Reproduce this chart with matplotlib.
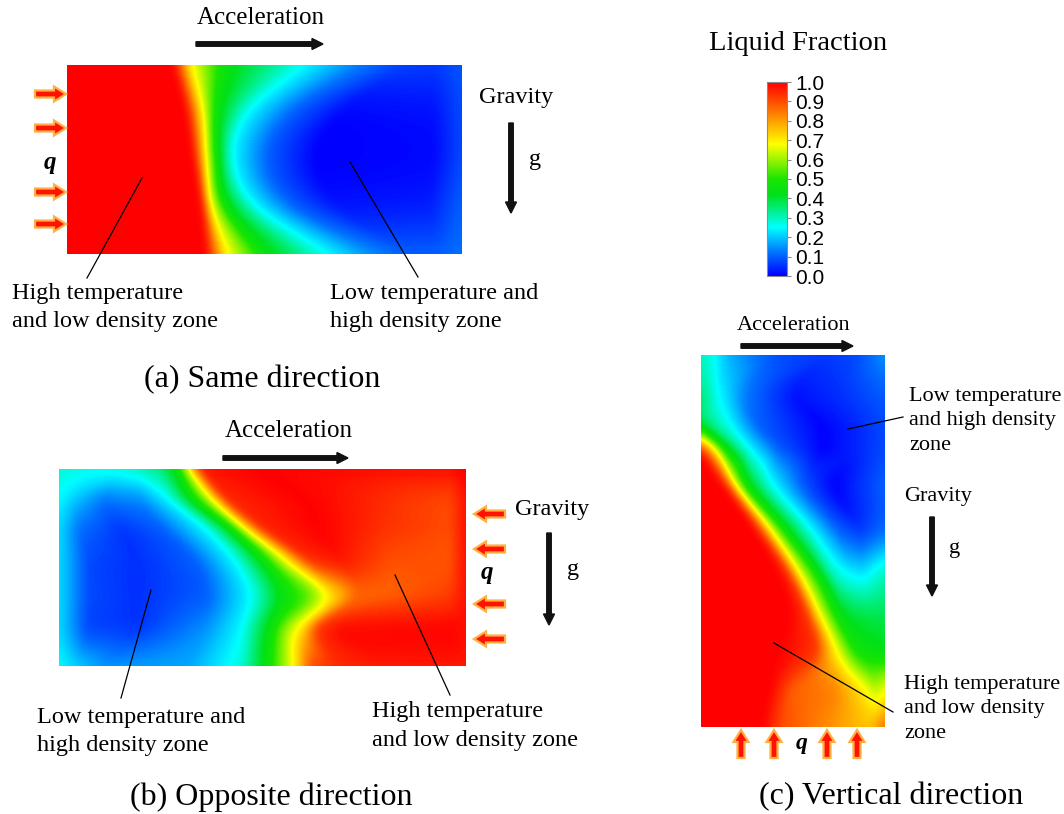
import numpy as np
import matplotlib

matplotlib.use('Agg')
import matplotlib.pyplot as plt  # noqa: E402
from matplotlib.colors import LinearSegmentedColormap, Normalize  # noqa: E402
from matplotlib.patches import FancyArrow  # noqa: E402
from matplotlib.cm import ScalarMappable  # noqa: E402

plt.rcParams['font.family'] = ['Liberation Serif', 'DejaVu Serif']

# liquid fraction profiles: each row (v = depth from the top, 0..1) is a set of
# knots across the width (x as a fraction of the width) with the value there
same_rows_v = [0.0, 0.24, 0.49, 0.73, 1.0]
same_knots_x = [
    [0, .27, .31, .40, .60, .74, .85, .93, 1.0],
    [0, .30, .34, .38, .46, .58, .70, .93, 1.0],
    [0, .32, .35, .38, .42, .51, .63, .93, 1.0],
    [0, .34, .36, .40, .47, .57, .68, .92, 1.0],
    [0, .35, .40, .50, .66, .78, .87, .94, 1.0],
]
same_knots_val = [
    [1, 1, .70, .45, .25, .13, .07, .06, .09],
    [1, 1, .70, .45, .25, .10, .01, .02, .08],
    [1, 1, .70, .45, .25, .10, .00, .01, .08],
    [1, 1, .70, .45, .25, .10, .02, .03, .10],
    [1, 1, .70, .45, .25, .14, .10, .10, .12],
]

opp_rows_v = [0.0, 0.15, 0.30, 0.46, 0.64, 0.81, 1.0]
opp_knots_x = [
    [0, .08, .15, .20, .25, .29, .32, .35, .48, .81, .96, 1.0],
    [0, .04, .11, .20, .27, .33, .38, .41, .60, .85, .96, 1.0],
    [0, .05, .15, .25, .36, .42, .46, .50, .64, .81, .96, 1.0],
    [0, .07, .19, .33, .43, .50, .56, .61, .69, .81, .96, 1.0],
    [0, .07, .19, .36, .47, .55, .61, .67, .73, .81, .96, 1.0],
    [0, .07, .19, .36, .45, .52, .56, .60, .64, .69, .96, 1.0],
    [0, .05, .11, .32, .45, .51, .58, .62, .69, .80, .96, 1.0],
]
opp_knots_val = [
    [.28, .26, .27, .30, .35, .45, .70, .97, 1.0, .98, .98, 1.0],
    [.25, .20, .13, .15, .25, .45, .70, .95, 1.0, .93, .91, .98],
    [.22, .12, .06, .10, .25, .45, .70, .95, 1.0, .93, .90, .98],
    [.22, .08, .05, .10, .25, .45, .70, .93, .97, .90, .89, .98],
    [.22, .08, .05, .10, .25, .45, .55, .72, .87, .88, .92, .98],
    [.22, .08, .06, .15, .25, .45, .60, .72, .93, .98, .99, .98],
    [.25, .20, .15, .17, .28, .45, .70, .90, .95, .97, .97, .97],
]

vert_rows_v = [0.0, 0.10, 0.20, 0.25, 0.34, 0.47, 0.59, 0.70, 0.80, 0.89, 1.0]
vert_knots_x = [
    [0, .05, .15, .30, .42, .69, .85, 1.0],
    [0, .05, .09, .16, .24, .51, .75, 1.0],
    [0, .03, .08, .18, .33, .66, .85, 1.0],
    [0, .06, .13, .26, .42, .66, .85, 1.0],
    [.09, .13, .17, .24, .38, .57, .73, 1.0],
    [.28, .32, .37, .46, .60, .75, .86, 1.0],
    [.42, .48, .53, .64, .72, .80, .88, 1.0],
    [.48, .58, .64, .75, .80, .85, .92, 1.0],
    [.42, .62, .73, .84, .88, .92, .96, 1.0],
    [.38, .51, .73, .86, .95, .97, .99, 1.0],
    [.33, .44, .69, .91, .95, .97, .99, 1.0],
]
vert_knots_val = [
    [.30, .27, .18, .12, .08, .06, .08, .15],
    [.35, .30, .25, .20, .13, .02, .05, .10],
    [.50, .42, .35, .25, .10, .00, .04, .08],
    [.90, .70, .45, .25, .10, .00, .04, .08],
    [1.0, .93, .70, .45, .25, .08, .00, .10],
    [1.0, .93, .70, .45, .25, .10, .06, .12],
    [1.0, .93, .70, .45, .30, .25, .23, .30],
    [1.0, .93, .70, .45, .41, .39, .38, .38],
    [1.0, .93, .70, .50, .47, .46, .45, .45],
    [1.0, .88, .82, .70, .60, .62, .64, .65],
    [1.0, .90, .82, .75, .78, .82, .84, .85],
]

cbar_ticks = [0.0, 0.1, 0.2, 0.3, 0.4, 0.5, 0.6, 0.7, 0.8, 0.9, 1.0]

cmap = LinearSegmentedColormap.from_list('fluent', [
    (0.00, (0.0, 0.0, 1.0)),
    (0.12, (0.0, 0.45, 1.0)),
    (0.25, (0.0, 1.0, 1.0)),
    (0.42, (0.0, 0.88, 0.1)),
    (0.50, (0.1, 0.9, 0.0)),
    (0.68, (1.0, 1.0, 0.0)),
    (0.80, (1.0, 0.62, 0.0)),
    (0.90, (1.0, 0.3, 0.0)),
    (1.00, (1.0, 0.0, 0.0)),
])
norm = Normalize(0, 1)


def smooth(z, sigma):
    r = int(3 * sigma)
    k = np.exp(-0.5 * (np.arange(-r, r + 1) / sigma) ** 2)
    k /= k.sum()
    zp = np.pad(z, ((r, r), (0, 0)), mode='edge')
    z = np.apply_along_axis(lambda c: np.convolve(c, k, mode='valid'), 0, zp)
    zp = np.pad(z, ((0, 0), (r, r)), mode='edge')
    z = np.apply_along_axis(lambda c: np.convolve(c, k, mode='valid'), 1, zp)
    return z


def hermite(t_new, t, p):
    # cubic Hermite through the row values, slopes from finite differences
    t = np.asarray(t, dtype=float)
    p = np.asarray(p, dtype=float)
    m = np.gradient(p, t)
    i = np.clip(np.searchsorted(t, t_new, side='right') - 1, 0, len(t) - 2)
    h = t[i + 1] - t[i]
    s = (t_new - t[i]) / h
    return ((2 * s**3 - 3 * s**2 + 1) * p[i] + (s**3 - 2 * s**2 + s) * h * m[i]
            + (-2 * s**3 + 3 * s**2) * p[i + 1] + (s**3 - s**2) * h * m[i + 1])


def build_field(rows_v, knots_x, knots_val, nx, ny, sigma=4.0):
    # knots slide between rows, so fronts move instead of fading
    kx = np.array(knots_x, dtype=float)
    kv = np.array(knots_val, dtype=float)
    u = np.linspace(0, 1, nx)
    vv = np.linspace(0, 1, ny)
    xs_all = np.stack([hermite(vv, rows_v, kx[:, k]) for k in range(kx.shape[1])], axis=1)
    vs_all = np.stack([hermite(vv, rows_v, kv[:, k]) for k in range(kv.shape[1])], axis=1)
    z = np.empty((ny, nx))
    for i in range(ny):
        xs = np.maximum.accumulate(xs_all[i])
        z[i] = np.interp(u, xs, np.clip(vs_all[i], 0, 1))
    return np.clip(smooth(z, sigma), 0, 1)


def draw_field(ax, box, rows_v, knots_x, knots_val):
    x0, y0, x1, y1 = box
    z = build_field(rows_v, knots_x, knots_val, int(x1 - x0), int(y1 - y0))
    ax.imshow(z, cmap=cmap, norm=norm, extent=(x0, x1, y1, y0),
              origin='upper', interpolation='bilinear', aspect='auto', zorder=1)


def black_arrow(ax, x, y, dx, dy):
    ax.add_patch(FancyArrow(x, y, dx, dy, width=4.5, head_width=11, head_length=11,
                            length_includes_head=True, color='#111111', zorder=3))


def heat_arrow(ax, x, y, dx, dy):
    ax.add_patch(FancyArrow(x, y, dx, dy, width=7, head_width=15, head_length=12,
                            length_includes_head=True, fc='#ff1200', ec='#ffb040',
                            lw=1.6, zorder=3))


def label(ax, x, y, lines, size=17.5, step=28.5):
    for i, line in enumerate(lines):
        ax.text(x, y + i * step, line, fontsize=size, ha='left', va='center')


fig = plt.figure(figsize=(10.64, 8.14), dpi=100)
ax = fig.add_axes([0, 0, 1, 1])
ax.set_xlim(0, 1064)
ax.set_ylim(814, 0)
ax.axis('off')

# (a) same direction
draw_field(ax, (67, 65, 462, 254), same_rows_v, same_knots_x, same_knots_val)
ax.text(261, 18, 'Acceleration', fontsize=18, ha='center', va='center')
black_arrow(ax, 196, 44, 127, 0)
for yy in (94, 128, 192, 224):
    heat_arrow(ax, 35, yy, 31, 0)
ax.text(50, 162, 'q', fontsize=18, fontweight='bold', style='italic', ha='center', va='center')
ax.text(479, 97, 'Gravity', fontsize=17.5, ha='left', va='center')
black_arrow(ax, 511, 123, 0, 90)
ax.text(535, 159, 'g', fontsize=17.5, ha='center', va='center')
ax.plot([142, 87], [178, 278], color='black', lw=0.9, zorder=4)
ax.plot([350, 418], [162, 277], color='black', lw=0.9, zorder=4)
label(ax, 12, 293, ['High temperature', 'and low density zone'])
label(ax, 330, 293, ['Low temperature and', 'high density zone'])
ax.text(262, 380, '(a) Same direction', fontsize=23, ha='center', va='center')

# (b) opposite direction
draw_field(ax, (59, 469, 466, 666), opp_rows_v, opp_knots_x, opp_knots_val)
ax.text(289, 431, 'Acceleration', fontsize=18, ha='center', va='center')
black_arrow(ax, 223, 458, 125, 0)
for yy in (514, 549, 604, 639):
    heat_arrow(ax, 505, yy, -31, 0)
ax.text(487, 573, 'q', fontsize=18, fontweight='bold', style='italic', ha='center', va='center')
ax.text(515, 510, 'Gravity', fontsize=17.5, ha='left', va='center')
black_arrow(ax, 549, 533, 0, 92)
ax.text(573, 569, 'g', fontsize=17.5, ha='center', va='center')
ax.plot([151, 121], [590, 698], color='black', lw=0.9, zorder=4)
ax.plot([395, 450], [575, 695], color='black', lw=0.9, zorder=4)
label(ax, 37, 717, ['Low temperature and', 'high density zone'])
label(ax, 372, 712, ['High temperature', 'and low density zone'])
ax.text(271, 797, '(b) Opposite direction', fontsize=23, ha='center', va='center')

# (c) vertical direction
draw_field(ax, (701, 355, 885, 727), vert_rows_v, vert_knots_x, vert_knots_val)
ax.text(794, 326, 'Acceleration', fontsize=16, ha='center', va='center')
black_arrow(ax, 741, 346, 112, 0)
for xx in (741, 774, 827, 857):
    heat_arrow(ax, xx, 758, 0, -28)
ax.text(802, 744, 'q', fontsize=17, fontweight='bold', style='italic', ha='center', va='center')
ax.text(904, 496, 'Gravity', fontsize=16, ha='left', va='center')
black_arrow(ax, 932, 517, 0, 79)
ax.text(955, 548, 'g', fontsize=16, ha='center', va='center')
ax.plot([848, 903], [429, 417], color='black', lw=0.9, zorder=4)
ax.plot([774, 893], [643, 712], color='black', lw=0.9, zorder=4)
label(ax, 909, 396, ['Low temperature', 'and high density', 'zone'], size=16, step=25)
label(ax, 904, 684, ['High temperature', 'and low density', 'zone'], size=16, step=25)
ax.text(891, 797, '(c) Vertical direction', fontsize=23, ha='center', va='center')

# colour scale
ax.text(798, 44, 'Liquid Fraction', fontsize=20.5, ha='center', va='center')
cax = fig.add_axes([767 / 1064, 1 - 276 / 814, 20 / 1064, 194 / 814])
cb = fig.colorbar(ScalarMappable(norm=norm, cmap=cmap), cax=cax, ticks=cbar_ticks)
cb.outline.set_edgecolor('#8a8a8a')
cb.outline.set_linewidth(0.8)
cax.tick_params(length=3, width=0.8, color='#8a8a8a', pad=3)
cax.set_yticklabels([f'{t:.1f}' for t in cbar_ticks], family='Liberation Sans', fontsize=15)

fig.savefig('out.png', dpi=100)
